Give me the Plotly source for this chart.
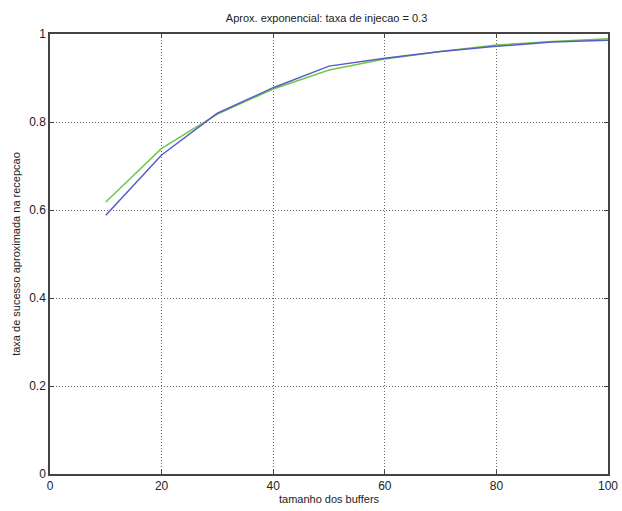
import plotly.graph_objects as go

buffers = [10, 20, 30, 40, 50, 60, 70, 80, 90, 100]
blue_vals = [0.588, 0.725, 0.820, 0.878, 0.927, 0.945, 0.960, 0.972, 0.982, 0.986]
green_vals = [0.618, 0.740, 0.818, 0.875, 0.918, 0.943, 0.960, 0.975, 0.983, 0.989]

xticks = [0, 20, 40, 60, 80, 100]
yticks = [0, 0.2, 0.4, 0.6, 0.8, 1]

fig = go.Figure()
fig.add_trace(go.Scatter(x=buffers, y=green_vals, mode="lines",
                         line=dict(color="#6cc94c", width=1.5), showlegend=False))
fig.add_trace(go.Scatter(x=buffers, y=blue_vals, mode="lines",
                         line=dict(color="#5a5ac8", width=1.5), showlegend=False))

axis_common = dict(showline=True, linecolor="#444", linewidth=1.5, mirror="ticks",
                   ticks="inside", ticklen=4, tickcolor="#444", automargin=False,
                   showgrid=True, gridcolor="#666", griddash="1px,2px", gridwidth=1,
                   zeroline=False, tickfont=dict(size=12, color="#222"))

fig.update_layout(
    width=622, height=511,
    margin=dict(l=50, r=14, t=34, b=37),
    paper_bgcolor="white", plot_bgcolor="white",
    font=dict(family="Liberation Sans, Arial, sans-serif", size=11, color="#222"),
    title=dict(text="Aprox. exponencial: taxa de injecao = 0.3", x=0.525, xanchor="center",
               y=0.965, yanchor="middle", font=dict(size=11), automargin=False),
    xaxis=dict(range=[0, 100], tickvals=xticks, ticktext=[str(v) for v in xticks],
               title=dict(text="tamanho dos buffers", standoff=2, font=dict(size=11)),
               **axis_common),
    yaxis=dict(range=[0, 1], tickvals=yticks, ticktext=[("%g" % v) for v in yticks],
               title=dict(text="taxa de sucesso aproximada na recepcao", standoff=6, font=dict(size=11)),
               **axis_common),
)

fig.write_html("out.html", config={"displayModeBar": False},
               post_script="document.body.style.margin='0';")
